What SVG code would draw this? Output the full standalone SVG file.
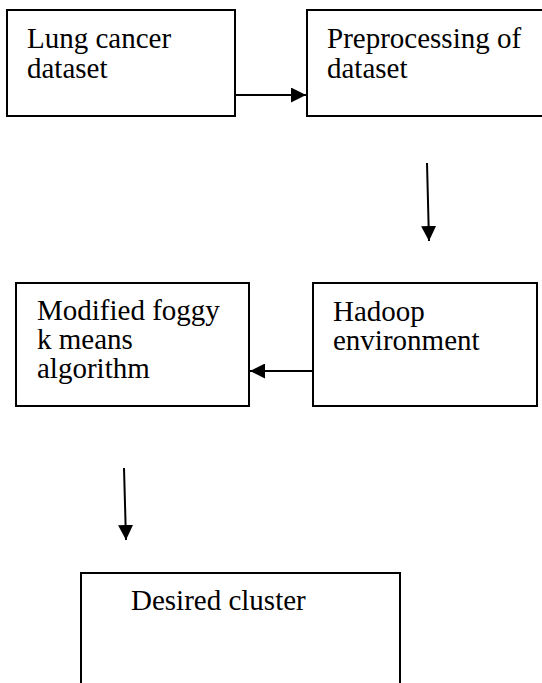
<svg xmlns="http://www.w3.org/2000/svg" width="542" height="683" viewBox="0 0 542 683">
<style>
.box{fill:#fff;stroke:#000;stroke-width:2}
.t{font-family:"Liberation Serif","Times New Roman",serif;font-size:29px;fill:#000}
.c{stroke:#000;stroke-width:2;fill:none;marker-end:url(#ah)}
</style>
<defs>
<marker id="ah" viewBox="0 0 15 15" markerWidth="15" markerHeight="15" refX="15" refY="7.5" orient="auto" markerUnits="userSpaceOnUse">
<path d="M0,0 L15,7.5 L0,15 z" fill="#000"/>
</marker>
</defs>
<rect width="542" height="683" fill="#fff"/>
<g id="node-lung">
<rect class="box" x="7" y="10" width="228" height="106"/>
<text class="t" x="27" y="48">Lung cancer</text>
<text class="t" x="27" y="78">dataset</text>
</g>
<g id="node-preprocessing">
<rect class="box" x="307" y="10" width="260" height="106"/>
<text class="t" x="327" y="48">Preprocessing of</text>
<text class="t" x="327" y="78">dataset</text>
</g>
<g id="node-hadoop">
<rect class="box" x="313" y="283" width="224" height="123"/>
<text class="t" x="333" y="321">Hadoop</text>
<text class="t" x="333" y="350">environment</text>
</g>
<g id="node-modified">
<rect class="box" x="16" y="283" width="233" height="123"/>
<text class="t" x="37" y="320">Modified foggy</text>
<text class="t" x="37" y="349">k means</text>
<text class="t" x="37" y="378">algorithm</text>
</g>
<g id="node-desired">
<rect class="box" x="81" y="573" width="319" height="130"/>
<text class="t" x="131" y="610">Desired cluster</text>
</g>
<g id="connectors">
<line class="c" x1="235" y1="95" x2="306" y2="95"/>
<line class="c" x1="427" y1="163" x2="429" y2="241"/>
<line class="c" x1="313" y1="371" x2="250" y2="371"/>
<line class="c" x1="124" y1="468" x2="126" y2="540"/>
</g>
</svg>
